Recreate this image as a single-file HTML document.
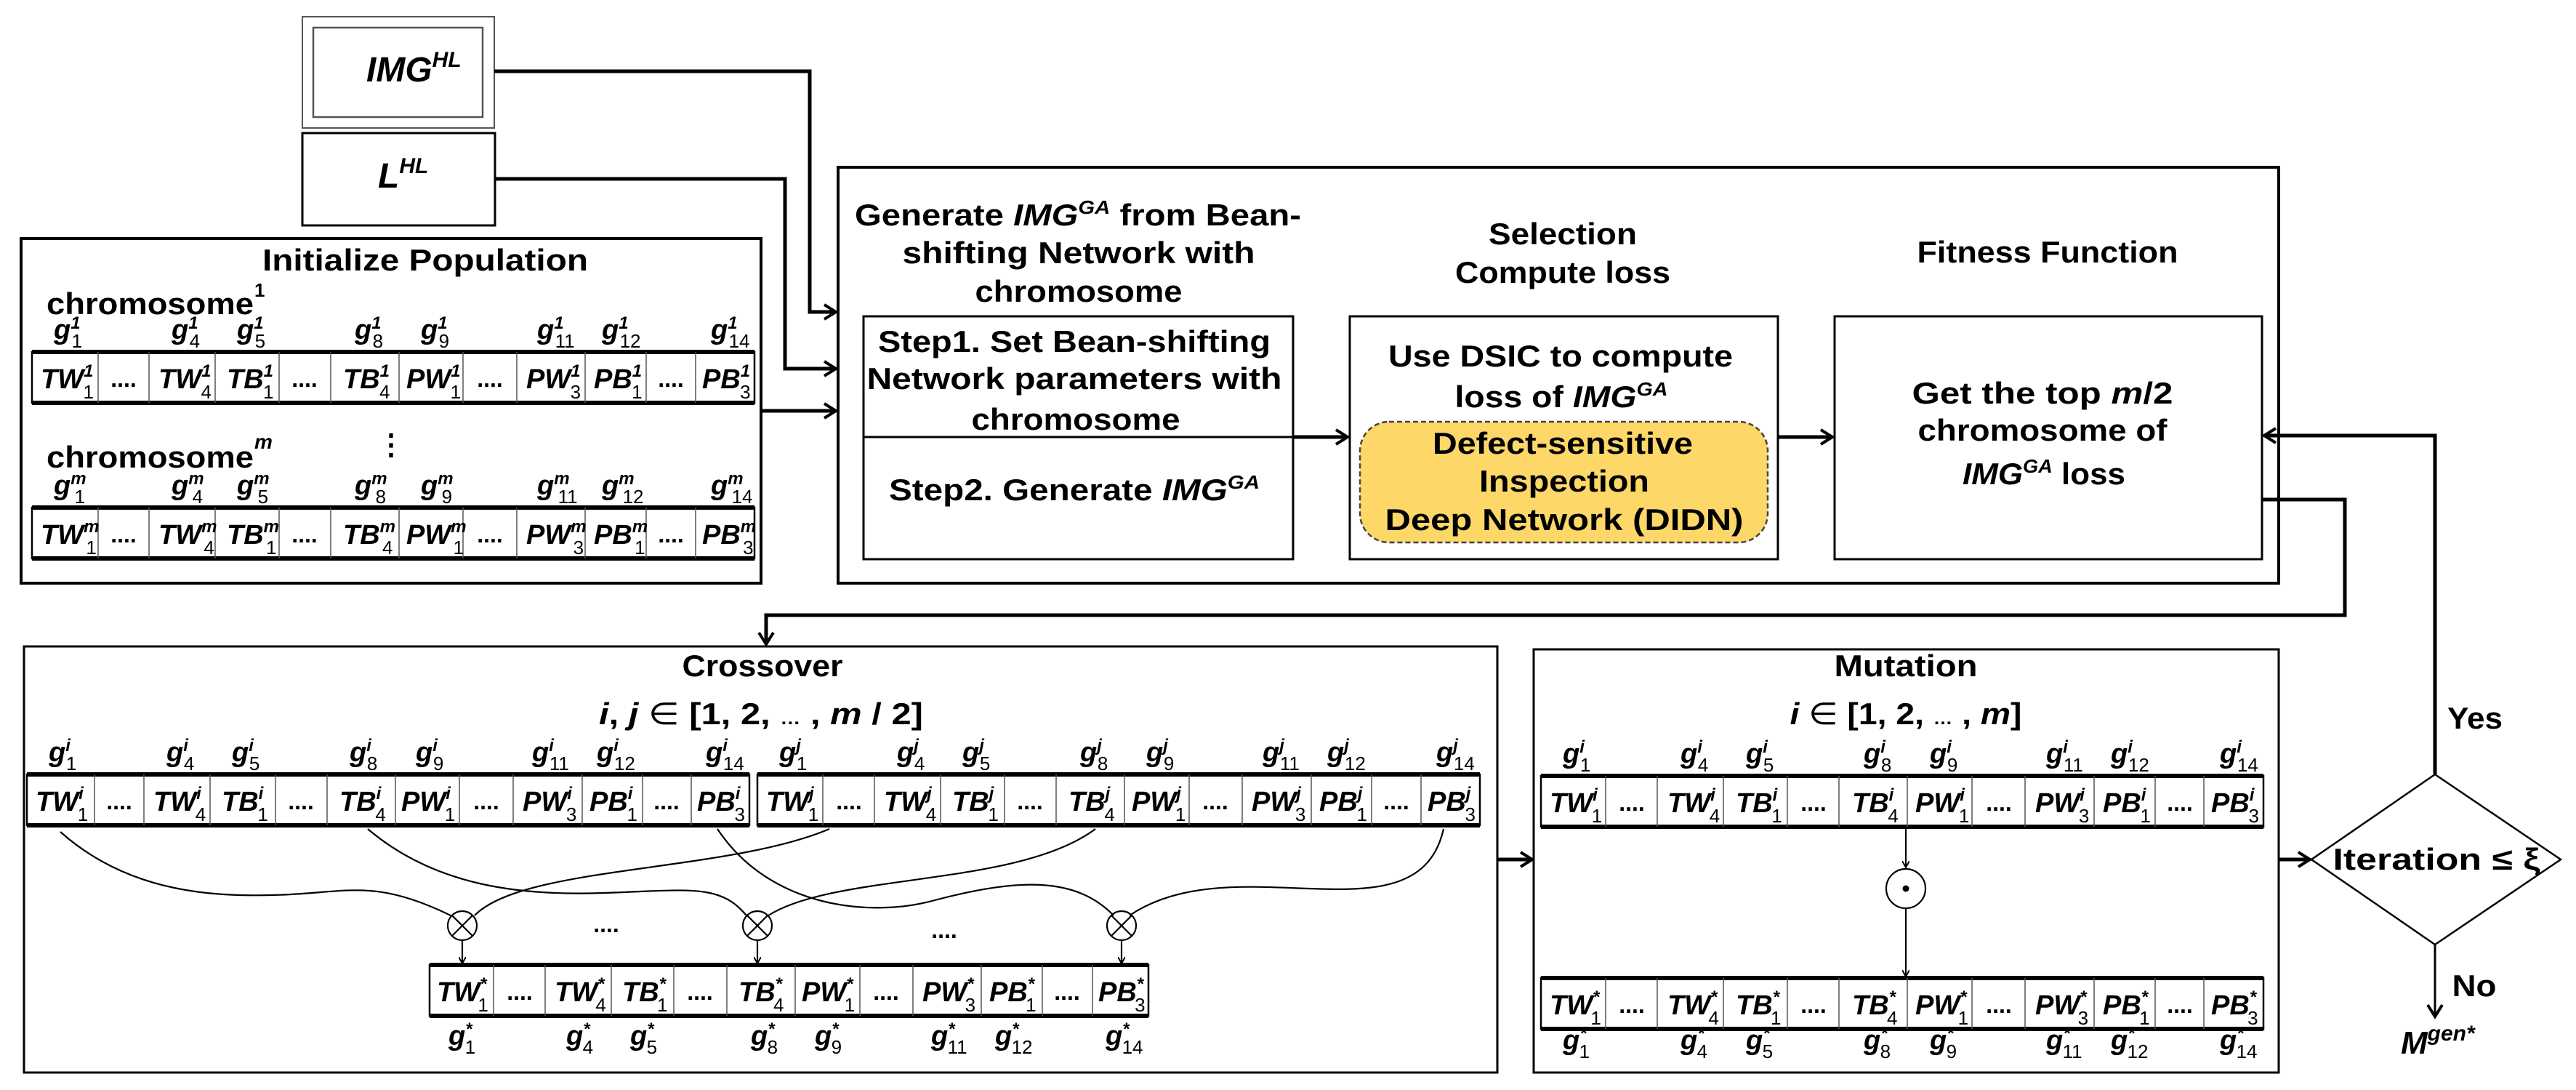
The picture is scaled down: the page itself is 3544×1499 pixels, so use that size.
<!DOCTYPE html>
<html><head><meta charset="utf-8"><style>
html,body{margin:0;padding:0;background:#fff}
svg{display:block}
text{font-family:"Liberation Sans",sans-serif;font-weight:bold;fill:#000}
.c{font-style:italic;font-size:38px}
.u{font-size:24px;font-style:italic}
.d{font-size:26px;font-style:normal;font-weight:normal}
.dots{font-size:32px;text-anchor:middle}
.h{font-size:42px;text-anchor:middle}
.i{font-style:italic}
.ln{fill:none;stroke:#000;stroke-width:5}
.th{fill:none;stroke:#000;stroke-width:2.5}
</style></head><body>
<svg width="3544" height="1499" viewBox="0 0 3544 1499" xmlns="http://www.w3.org/2000/svg">
<defs>
<marker id="a" markerWidth="10" markerHeight="10" refX="9" refY="5" orient="auto" markerUnits="userSpaceOnUse"><path d="M0 0L9 5L0 10" fill="none" stroke="#000" stroke-width="2"/></marker>
<marker id="A" markerWidth="24" markerHeight="24" refX="20" refY="12" orient="auto" markerUnits="userSpaceOnUse"><path d="M4 2L20 12L4 22" fill="none" stroke="#000" stroke-width="4"/></marker>
</defs>

<!-- IMG HL -->
<rect x="416" y="23" width="264" height="153" fill="none" stroke="#555" stroke-width="2"/>
<rect x="431" y="38" width="233" height="123" fill="none" stroke="#555" stroke-width="2.5"/>
<text x="504" y="112" class="i" font-size="48">IMG<tspan dy="-20" font-size="30">HL</tspan></text>
<rect x="416" y="183" width="265" height="127" fill="none" stroke="#000" stroke-width="3"/>
<text x="520" y="258" class="i" font-size="48">L<tspan dy="-20" font-size="30">HL</tspan></text>

<!-- arrows into top box -->
<path class="ln" d="M680 98H1114V429H1150" marker-end="url(#A)"/>
<path class="ln" d="M681 246H1080V507H1150" marker-end="url(#A)"/>
<path class="ln" d="M1047 565H1150" marker-end="url(#A)"/>

<!-- Initialize population -->
<rect x="29" y="328" width="1018" height="474" fill="none" stroke="#000" stroke-width="4"/>
<text x="585" y="372" class="h" font-size="44" textLength="448" lengthAdjust="spacingAndGlyphs">Initialize Population</text>
<text x="64" y="432" font-size="42" textLength="285" lengthAdjust="spacingAndGlyphs">chromosome</text><text x="350" y="408" font-size="26">1</text>
<text x="64" y="643" font-size="42" textLength="285" lengthAdjust="spacingAndGlyphs">chromosome</text><text x="350" y="617" font-size="28" class="i">m</text>
<text x="538" y="625" font-size="40" text-anchor="middle">⋮</text>

<!-- ROW: init 1 -->
<g transform="translate(44,484)">
<rect width="994" height="70" class="th"/><path d="M0 0H994M0 70H994" stroke="#000" stroke-width="6"/>
<path d="M91 0V70M161 0V70M252 0V70M340 0V70M411 0V70M505 0V70M593 0V70M667 0V70M761 0V70M845 0V70M913 0V70" stroke="#555" stroke-width="1.5"/>
<text class="c" x="12" y="50">TW<tspan class="u" dy="-16">1</tspan><tspan class="d" dx="-14" dy="30">1</tspan></text>
<text class="dots" x="126" y="48">....</text>
<text class="c" x="174" y="50">TW<tspan class="u" dy="-16">1</tspan><tspan class="d" dx="-14" dy="30">4</tspan></text>
<text class="c" x="268" y="50">TB<tspan class="u" dy="-16">1</tspan><tspan class="d" dx="-14" dy="30">1</tspan></text>
<text class="dots" x="375" y="48">....</text>
<text class="c" x="428" y="50">TB<tspan class="u" dy="-16">1</tspan><tspan class="d" dx="-14" dy="30">4</tspan></text>
<text class="c" x="515" y="50">PW<tspan class="u" dy="-16">1</tspan><tspan class="d" dx="-14" dy="30">1</tspan></text>
<text class="dots" x="630" y="48">....</text>
<text class="c" x="680" y="50">PW<tspan class="u" dy="-16">1</tspan><tspan class="d" dx="-14" dy="30">3</tspan></text>
<text class="c" x="773" y="50">PB<tspan class="u" dy="-16">1</tspan><tspan class="d" dx="-14" dy="30">1</tspan></text>
<text class="dots" x="879" y="48">....</text>
<text class="c" x="922" y="50">PB<tspan class="u" dy="-16">1</tspan><tspan class="d" dx="-14" dy="30">3</tspan></text>
<text class="c" x="30" y="-18">g<tspan class="u" dy="-14">1</tspan><tspan class="d" dx="-12" dy="26">1</tspan></text>
<text class="c" x="192" y="-18">g<tspan class="u" dy="-14">1</tspan><tspan class="d" dx="-12" dy="26">4</tspan></text>
<text class="c" x="282" y="-18">g<tspan class="u" dy="-14">1</tspan><tspan class="d" dx="-12" dy="26">5</tspan></text>
<text class="c" x="444" y="-18">g<tspan class="u" dy="-14">1</tspan><tspan class="d" dx="-12" dy="26">8</tspan></text>
<text class="c" x="535" y="-18">g<tspan class="u" dy="-14">1</tspan><tspan class="d" dx="-12" dy="26">9</tspan></text>
<text class="c" x="695" y="-18">g<tspan class="u" dy="-14">1</tspan><tspan class="d" dx="-12" dy="26">11</tspan></text>
<text class="c" x="784" y="-18">g<tspan class="u" dy="-14">1</tspan><tspan class="d" dx="-12" dy="26">12</tspan></text>
<text class="c" x="934" y="-18">g<tspan class="u" dy="-14">1</tspan><tspan class="d" dx="-12" dy="26">14</tspan></text>
</g>

<!-- ROW: init m -->
<g transform="translate(44,698)">
<rect width="994" height="70" class="th"/><path d="M0 0H994M0 70H994" stroke="#000" stroke-width="6"/>
<path d="M91 0V70M161 0V70M252 0V70M340 0V70M411 0V70M505 0V70M593 0V70M667 0V70M761 0V70M845 0V70M913 0V70" stroke="#555" stroke-width="1.5"/>
<text class="c" x="12" y="50">TW<tspan class="u" dy="-16">m</tspan><tspan class="d" dx="-18" dy="30">1</tspan></text>
<text class="dots" x="126" y="48">....</text>
<text class="c" x="174" y="50">TW<tspan class="u" dy="-16">m</tspan><tspan class="d" dx="-18" dy="30">4</tspan></text>
<text class="c" x="268" y="50">TB<tspan class="u" dy="-16">m</tspan><tspan class="d" dx="-18" dy="30">1</tspan></text>
<text class="dots" x="375" y="48">....</text>
<text class="c" x="428" y="50">TB<tspan class="u" dy="-16">m</tspan><tspan class="d" dx="-18" dy="30">4</tspan></text>
<text class="c" x="515" y="50">PW<tspan class="u" dy="-16">m</tspan><tspan class="d" dx="-18" dy="30">1</tspan></text>
<text class="dots" x="630" y="48">....</text>
<text class="c" x="680" y="50">PW<tspan class="u" dy="-16">m</tspan><tspan class="d" dx="-18" dy="30">3</tspan></text>
<text class="c" x="773" y="50">PB<tspan class="u" dy="-16">m</tspan><tspan class="d" dx="-18" dy="30">1</tspan></text>
<text class="dots" x="879" y="48">....</text>
<text class="c" x="922" y="50">PB<tspan class="u" dy="-16">m</tspan><tspan class="d" dx="-18" dy="30">3</tspan></text>
<text class="c" x="30" y="-18">g<tspan class="u" dy="-14">m</tspan><tspan class="d" dx="-16" dy="26">1</tspan></text>
<text class="c" x="192" y="-18">g<tspan class="u" dy="-14">m</tspan><tspan class="d" dx="-16" dy="26">4</tspan></text>
<text class="c" x="282" y="-18">g<tspan class="u" dy="-14">m</tspan><tspan class="d" dx="-16" dy="26">5</tspan></text>
<text class="c" x="444" y="-18">g<tspan class="u" dy="-14">m</tspan><tspan class="d" dx="-16" dy="26">8</tspan></text>
<text class="c" x="535" y="-18">g<tspan class="u" dy="-14">m</tspan><tspan class="d" dx="-16" dy="26">9</tspan></text>
<text class="c" x="695" y="-18">g<tspan class="u" dy="-14">m</tspan><tspan class="d" dx="-16" dy="26">11</tspan></text>
<text class="c" x="784" y="-18">g<tspan class="u" dy="-14">m</tspan><tspan class="d" dx="-16" dy="26">12</tspan></text>
<text class="c" x="934" y="-18">g<tspan class="u" dy="-14">m</tspan><tspan class="d" dx="-16" dy="26">14</tspan></text>
</g>

<!-- Top big box -->
<rect x="1153" y="230" width="1982" height="572" fill="none" stroke="#000" stroke-width="4"/>
<text x="1483" y="310" class="h" textLength="614" lengthAdjust="spacingAndGlyphs">Generate <tspan class="i">IMG</tspan><tspan dy="-16" font-size="26" class="i">GA</tspan><tspan dy="16"> from Bean-</tspan></text>
<text x="1484" y="362" class="h" textLength="485" lengthAdjust="spacingAndGlyphs">shifting Network with</text>
<text x="1484" y="415" class="h" textLength="285" lengthAdjust="spacingAndGlyphs">chromosome</text>
<text x="2150" y="336" class="h" textLength="204" lengthAdjust="spacingAndGlyphs">Selection</text>
<text x="2150" y="389" class="h" textLength="296" lengthAdjust="spacingAndGlyphs">Compute loss</text>
<text x="2817" y="361" class="h" textLength="359" lengthAdjust="spacingAndGlyphs">Fitness Function</text>

<rect x="1188" y="435" width="591" height="334" fill="none" stroke="#000" stroke-width="3"/>
<path d="M1188 601H1779" stroke="#000" stroke-width="3"/>
<text x="1478" y="484" class="h" textLength="540" lengthAdjust="spacingAndGlyphs">Step1. Set Bean-shifting</text>
<text x="1478" y="535" class="h" textLength="571" lengthAdjust="spacingAndGlyphs">Network parameters with</text>
<text x="1480" y="591" class="h" textLength="287" lengthAdjust="spacingAndGlyphs">chromosome</text>
<text x="1478" y="688" class="h" textLength="510" lengthAdjust="spacingAndGlyphs">Step2. Generate <tspan class="i">IMG</tspan><tspan dy="-16" font-size="26" class="i">GA</tspan></text>

<rect x="1857" y="435" width="589" height="334" fill="none" stroke="#000" stroke-width="3"/>
<text x="2147" y="504" class="h" textLength="474" lengthAdjust="spacingAndGlyphs">Use DSIC to compute</text>
<text x="2148" y="560" class="h" textLength="293" lengthAdjust="spacingAndGlyphs">loss of <tspan class="i">IMG</tspan><tspan dy="-16" font-size="26" class="i">GA</tspan></text>
<rect x="1871" y="580" width="561" height="166" rx="40" fill="#fdd767" stroke="#444" stroke-width="2.5" stroke-dasharray="7,4"/>
<text x="2150" y="624" class="h" textLength="358" lengthAdjust="spacingAndGlyphs">Defect-sensitive</text>
<text x="2152" y="676" class="h" textLength="234" lengthAdjust="spacingAndGlyphs">Inspection</text>
<text x="2152" y="729" class="h" textLength="493" lengthAdjust="spacingAndGlyphs">Deep Network (DIDN)</text>

<rect x="2524" y="435" width="588" height="334" fill="none" stroke="#000" stroke-width="3"/>
<text x="2810" y="555" class="h" textLength="359" lengthAdjust="spacingAndGlyphs">Get the top <tspan class="i">m</tspan>/2</text>
<text x="2810" y="606" class="h" textLength="343" lengthAdjust="spacingAndGlyphs">chromosome of</text>
<text x="2812" y="666" class="h" textLength="224" lengthAdjust="spacingAndGlyphs"><tspan class="i">IMG</tspan><tspan dy="-16" font-size="26" class="i">GA</tspan><tspan dy="16"> loss</tspan></text>

<path class="ln" d="M1779 601H1854" marker-end="url(#A)"/>
<path class="ln" d="M2446 601H2521" marker-end="url(#A)"/>

<!-- feedback lines -->
<path class="ln" d="M3112 687H3226V846H1054V886" stroke-width="5"/>
<path d="M1054 846V886" stroke="#000" stroke-width="3" marker-end="url(#A)"/>
<path class="ln" d="M3350 1065V599H3115" marker-end="url(#A)"/>

<!-- Crossover box -->
<rect x="33" y="889" width="2027" height="586" fill="none" stroke="#000" stroke-width="3"/>
<text x="1049" y="930" class="h" font-size="40" textLength="221" lengthAdjust="spacingAndGlyphs">Crossover</text>
<text x="1047" y="996" class="h" font-size="42" textLength="446" lengthAdjust="spacingAndGlyphs"><tspan class="i">i</tspan>, <tspan class="i">j</tspan> <tspan font-weight="normal">∈</tspan> [1, 2, <tspan font-size="24">…</tspan> , <tspan class="i">m</tspan> / 2]</text>

<!-- ROW: crossover i -->
<g transform="translate(37,1065)">
<rect width="994" height="70" class="th"/><path d="M0 0H994M0 70H994" stroke="#000" stroke-width="6"/>
<path d="M93 0V70M161 0V70M252 0V70M342 0V70M413 0V70M507 0V70M595 0V70M669 0V70M764 0V70M847 0V70M914 0V70" stroke="#555" stroke-width="1.5"/>
<text class="c" x="12" y="50">TW<tspan class="u" dy="-16">i</tspan><tspan class="d" dx="-8" dy="30">1</tspan></text>
<text class="dots" x="127" y="48">....</text>
<text class="c" x="174" y="50">TW<tspan class="u" dy="-16">i</tspan><tspan class="d" dx="-8" dy="30">4</tspan></text>
<text class="c" x="268" y="50">TB<tspan class="u" dy="-16">i</tspan><tspan class="d" dx="-8" dy="30">1</tspan></text>
<text class="dots" x="377" y="48">....</text>
<text class="c" x="430" y="50">TB<tspan class="u" dy="-16">i</tspan><tspan class="d" dx="-8" dy="30">4</tspan></text>
<text class="c" x="515" y="50">PW<tspan class="u" dy="-16">i</tspan><tspan class="d" dx="-8" dy="30">1</tspan></text>
<text class="dots" x="632" y="48">....</text>
<text class="c" x="682" y="50">PW<tspan class="u" dy="-16">i</tspan><tspan class="d" dx="-8" dy="30">3</tspan></text>
<text class="c" x="774" y="50">PB<tspan class="u" dy="-16">i</tspan><tspan class="d" dx="-8" dy="30">1</tspan></text>
<text class="dots" x="880" y="48">....</text>
<text class="c" x="922" y="50">PB<tspan class="u" dy="-16">i</tspan><tspan class="d" dx="-8" dy="30">3</tspan></text>
<text class="c" x="30" y="-18">g<tspan class="u" dy="-14">i</tspan><tspan class="d" dx="-6" dy="26">1</tspan></text>
<text class="c" x="192" y="-18">g<tspan class="u" dy="-14">i</tspan><tspan class="d" dx="-6" dy="26">4</tspan></text>
<text class="c" x="282" y="-18">g<tspan class="u" dy="-14">i</tspan><tspan class="d" dx="-6" dy="26">5</tspan></text>
<text class="c" x="444" y="-18">g<tspan class="u" dy="-14">i</tspan><tspan class="d" dx="-6" dy="26">8</tspan></text>
<text class="c" x="535" y="-18">g<tspan class="u" dy="-14">i</tspan><tspan class="d" dx="-6" dy="26">9</tspan></text>
<text class="c" x="695" y="-18">g<tspan class="u" dy="-14">i</tspan><tspan class="d" dx="-6" dy="26">11</tspan></text>
<text class="c" x="784" y="-18">g<tspan class="u" dy="-14">i</tspan><tspan class="d" dx="-6" dy="26">12</tspan></text>
<text class="c" x="934" y="-18">g<tspan class="u" dy="-14">i</tspan><tspan class="d" dx="-6" dy="26">14</tspan></text>
</g>

<!-- ROW: crossover j -->
<g transform="translate(1042,1065)">
<rect width="994" height="70" class="th"/><path d="M0 0H994M0 70H994" stroke="#000" stroke-width="6"/>
<path d="M90 0V70M161 0V70M252 0V70M340 0V70M411 0V70M505 0V70M594 0V70M667 0V70M762 0V70M845 0V70M913 0V70" stroke="#555" stroke-width="1.5"/>
<text class="c" x="12" y="50">TW<tspan class="u" dy="-16">j</tspan><tspan class="d" dx="-8" dy="30">1</tspan></text>
<text class="dots" x="126" y="48">....</text>
<text class="c" x="174" y="50">TW<tspan class="u" dy="-16">j</tspan><tspan class="d" dx="-8" dy="30">4</tspan></text>
<text class="c" x="268" y="50">TB<tspan class="u" dy="-16">j</tspan><tspan class="d" dx="-8" dy="30">1</tspan></text>
<text class="dots" x="375" y="48">....</text>
<text class="c" x="428" y="50">TB<tspan class="u" dy="-16">j</tspan><tspan class="d" dx="-8" dy="30">4</tspan></text>
<text class="c" x="515" y="50">PW<tspan class="u" dy="-16">j</tspan><tspan class="d" dx="-8" dy="30">1</tspan></text>
<text class="dots" x="630" y="48">....</text>
<text class="c" x="680" y="50">PW<tspan class="u" dy="-16">j</tspan><tspan class="d" dx="-8" dy="30">3</tspan></text>
<text class="c" x="773" y="50">PB<tspan class="u" dy="-16">j</tspan><tspan class="d" dx="-8" dy="30">1</tspan></text>
<text class="dots" x="879" y="48">....</text>
<text class="c" x="922" y="50">PB<tspan class="u" dy="-16">j</tspan><tspan class="d" dx="-8" dy="30">3</tspan></text>
<text class="c" x="30" y="-18">g<tspan class="u" dy="-14">j</tspan><tspan class="d" dx="-6" dy="26">1</tspan></text>
<text class="c" x="192" y="-18">g<tspan class="u" dy="-14">j</tspan><tspan class="d" dx="-6" dy="26">4</tspan></text>
<text class="c" x="282" y="-18">g<tspan class="u" dy="-14">j</tspan><tspan class="d" dx="-6" dy="26">5</tspan></text>
<text class="c" x="444" y="-18">g<tspan class="u" dy="-14">j</tspan><tspan class="d" dx="-6" dy="26">8</tspan></text>
<text class="c" x="535" y="-18">g<tspan class="u" dy="-14">j</tspan><tspan class="d" dx="-6" dy="26">9</tspan></text>
<text class="c" x="695" y="-18">g<tspan class="u" dy="-14">j</tspan><tspan class="d" dx="-6" dy="26">11</tspan></text>
<text class="c" x="784" y="-18">g<tspan class="u" dy="-14">j</tspan><tspan class="d" dx="-6" dy="26">12</tspan></text>
<text class="c" x="934" y="-18">g<tspan class="u" dy="-14">j</tspan><tspan class="d" dx="-6" dy="26">14</tspan></text>
</g>

<!-- crossover curves -->
<g fill="none" stroke="#000" stroke-width="2.2">
<path d="M83 1144C180 1230 300 1235 400 1230C480 1226 520 1210 620 1259"/>
<path d="M1141 1140C1000 1200 720 1190 653 1259"/>
<path d="M506 1140C600 1220 720 1232 830 1228C950 1224 990 1215 1027 1259"/>
<path d="M1507 1140C1400 1220 1150 1200 1057 1259"/>
<path d="M987 1140C1060 1250 1200 1262 1286 1238C1400 1208 1480 1205 1532 1259"/>
<path d="M1986 1140C1950 1300 1700 1160 1554 1259"/>
<ellipse cx="636" cy="1273" rx="20" ry="20"/><path d="M622 1259L650 1287M650 1259L622 1287"/>
<ellipse cx="1042" cy="1273" rx="20" ry="20"/><path d="M1028 1259L1056 1287M1056 1259L1028 1287"/>
<ellipse cx="1543" cy="1273" rx="20" ry="20"/><path d="M1529 1259L1557 1287M1557 1259L1529 1287"/>
<path d="M636 1293V1325" marker-end="url(#a)"/>
<path d="M1042 1293V1325" marker-end="url(#a)"/>
<path d="M1543 1293V1325" marker-end="url(#a)"/>
</g>
<text class="dots" x="834" y="1282">....</text>
<text class="dots" x="1299" y="1290">....</text>

<!-- ROW: child crossover -->
<g transform="translate(591,1327)">
<rect width="989" height="70" class="th"/><path d="M0 0H989M0 70H989" stroke="#000" stroke-width="6"/>
<path d="M88 0V70M159 0V70M250 0V70M336 0V70M409 0V70M503 0V70M592 0V70M665 0V70M759 0V70M843 0V70M912 0V70" stroke="#555" stroke-width="1.5"/>
<text class="c" x="10" y="50">TW<tspan class="u" dy="-16">*</tspan><tspan class="d" dx="-12" dy="30">1</tspan></text>
<text class="dots" x="124" y="48">....</text>
<text class="c" x="172" y="50">TW<tspan class="u" dy="-16">*</tspan><tspan class="d" dx="-12" dy="30">4</tspan></text>
<text class="c" x="265" y="50">TB<tspan class="u" dy="-16">*</tspan><tspan class="d" dx="-12" dy="30">1</tspan></text>
<text class="dots" x="372" y="48">....</text>
<text class="c" x="425" y="50">TB<tspan class="u" dy="-16">*</tspan><tspan class="d" dx="-12" dy="30">4</tspan></text>
<text class="c" x="512" y="50">PW<tspan class="u" dy="-16">*</tspan><tspan class="d" dx="-12" dy="30">1</tspan></text>
<text class="dots" x="628" y="48">....</text>
<text class="c" x="678" y="50">PW<tspan class="u" dy="-16">*</tspan><tspan class="d" dx="-12" dy="30">3</tspan></text>
<text class="c" x="770" y="50">PB<tspan class="u" dy="-16">*</tspan><tspan class="d" dx="-12" dy="30">1</tspan></text>
<text class="dots" x="877" y="48">....</text>
<text class="c" x="920" y="50">PB<tspan class="u" dy="-16">*</tspan><tspan class="d" dx="-12" dy="30">3</tspan></text>
<text class="c" x="26" y="110">g<tspan class="u" dy="-14">*</tspan><tspan class="d" dx="-10" dy="26">1</tspan></text>
<text class="c" x="188" y="110">g<tspan class="u" dy="-14">*</tspan><tspan class="d" dx="-10" dy="26">4</tspan></text>
<text class="c" x="276" y="110">g<tspan class="u" dy="-14">*</tspan><tspan class="d" dx="-10" dy="26">5</tspan></text>
<text class="c" x="442" y="110">g<tspan class="u" dy="-14">*</tspan><tspan class="d" dx="-10" dy="26">8</tspan></text>
<text class="c" x="530" y="110">g<tspan class="u" dy="-14">*</tspan><tspan class="d" dx="-10" dy="26">9</tspan></text>
<text class="c" x="690" y="110">g<tspan class="u" dy="-14">*</tspan><tspan class="d" dx="-10" dy="26">11</tspan></text>
<text class="c" x="778" y="110">g<tspan class="u" dy="-14">*</tspan><tspan class="d" dx="-10" dy="26">12</tspan></text>
<text class="c" x="930" y="110">g<tspan class="u" dy="-14">*</tspan><tspan class="d" dx="-10" dy="26">14</tspan></text>
</g>

<!-- crossover -> mutation -->
<path class="ln" d="M2060 1182H2108" marker-end="url(#A)"/>

<!-- Mutation box -->
<rect x="2110" y="893" width="1025" height="582" fill="none" stroke="#000" stroke-width="3"/>
<text x="2622" y="930" class="h" font-size="40" textLength="197" lengthAdjust="spacingAndGlyphs">Mutation</text>
<text x="2622" y="996" class="h" font-size="42" textLength="319" lengthAdjust="spacingAndGlyphs"><tspan class="i">i</tspan> <tspan font-weight="normal">∈</tspan> [1, 2, <tspan font-size="24">…</tspan> , <tspan class="i">m</tspan>]</text>

<!-- ROW: mutation i -->
<g transform="translate(2120,1067)">
<rect width="994" height="70" class="th"/><path d="M0 0H994M0 70H994" stroke="#000" stroke-width="6"/>
<path d="M89 0V70M160 0V70M251 0V70M339 0V70M410 0V70M504 0V70M593 0V70M666 0V70M761 0V70M845 0V70M912 0V70" stroke="#555" stroke-width="1.5"/>
<text class="c" x="12" y="50">TW<tspan class="u" dy="-16">i</tspan><tspan class="d" dx="-8" dy="30">1</tspan></text>
<text class="dots" x="125" y="48">....</text>
<text class="c" x="174" y="50">TW<tspan class="u" dy="-16">i</tspan><tspan class="d" dx="-8" dy="30">4</tspan></text>
<text class="c" x="268" y="50">TB<tspan class="u" dy="-16">i</tspan><tspan class="d" dx="-8" dy="30">1</tspan></text>
<text class="dots" x="375" y="48">....</text>
<text class="c" x="428" y="50">TB<tspan class="u" dy="-16">i</tspan><tspan class="d" dx="-8" dy="30">4</tspan></text>
<text class="c" x="515" y="50">PW<tspan class="u" dy="-16">i</tspan><tspan class="d" dx="-8" dy="30">1</tspan></text>
<text class="dots" x="630" y="48">....</text>
<text class="c" x="680" y="50">PW<tspan class="u" dy="-16">i</tspan><tspan class="d" dx="-8" dy="30">3</tspan></text>
<text class="c" x="773" y="50">PB<tspan class="u" dy="-16">i</tspan><tspan class="d" dx="-8" dy="30">1</tspan></text>
<text class="dots" x="879" y="48">....</text>
<text class="c" x="922" y="50">PB<tspan class="u" dy="-16">i</tspan><tspan class="d" dx="-8" dy="30">3</tspan></text>
<text class="c" x="30" y="-18">g<tspan class="u" dy="-14">i</tspan><tspan class="d" dx="-6" dy="26">1</tspan></text>
<text class="c" x="192" y="-18">g<tspan class="u" dy="-14">i</tspan><tspan class="d" dx="-6" dy="26">4</tspan></text>
<text class="c" x="282" y="-18">g<tspan class="u" dy="-14">i</tspan><tspan class="d" dx="-6" dy="26">5</tspan></text>
<text class="c" x="444" y="-18">g<tspan class="u" dy="-14">i</tspan><tspan class="d" dx="-6" dy="26">8</tspan></text>
<text class="c" x="535" y="-18">g<tspan class="u" dy="-14">i</tspan><tspan class="d" dx="-6" dy="26">9</tspan></text>
<text class="c" x="695" y="-18">g<tspan class="u" dy="-14">i</tspan><tspan class="d" dx="-6" dy="26">11</tspan></text>
<text class="c" x="784" y="-18">g<tspan class="u" dy="-14">i</tspan><tspan class="d" dx="-6" dy="26">12</tspan></text>
<text class="c" x="934" y="-18">g<tspan class="u" dy="-14">i</tspan><tspan class="d" dx="-6" dy="26">14</tspan></text>
</g>

<g fill="none" stroke="#000" stroke-width="2.2">
<path d="M2622 1138V1193" marker-end="url(#a)"/>
<ellipse cx="2622" cy="1222" rx="27" ry="27"/>
<path d="M2622 1249V1343" marker-end="url(#a)"/>
</g>
<circle cx="2622" cy="1222" r="4.5" fill="#000"/>

<!-- ROW: mutation child -->
<g transform="translate(2120,1345)">
<rect width="994" height="70" class="th"/><path d="M0 0H994M0 70H994" stroke="#000" stroke-width="6"/>
<path d="M89 0V70M160 0V70M251 0V70M339 0V70M410 0V70M504 0V70M593 0V70M666 0V70M761 0V70M845 0V70M912 0V70" stroke="#555" stroke-width="1.5"/>
<text class="c" x="12" y="50">TW<tspan class="u" dy="-16">*</tspan><tspan class="d" dx="-12" dy="30">1</tspan></text>
<text class="dots" x="125" y="48">....</text>
<text class="c" x="174" y="50">TW<tspan class="u" dy="-16">*</tspan><tspan class="d" dx="-12" dy="30">4</tspan></text>
<text class="c" x="268" y="50">TB<tspan class="u" dy="-16">*</tspan><tspan class="d" dx="-12" dy="30">1</tspan></text>
<text class="dots" x="375" y="48">....</text>
<text class="c" x="428" y="50">TB<tspan class="u" dy="-16">*</tspan><tspan class="d" dx="-12" dy="30">4</tspan></text>
<text class="c" x="515" y="50">PW<tspan class="u" dy="-16">*</tspan><tspan class="d" dx="-12" dy="30">1</tspan></text>
<text class="dots" x="630" y="48">....</text>
<text class="c" x="680" y="50">PW<tspan class="u" dy="-16">*</tspan><tspan class="d" dx="-12" dy="30">3</tspan></text>
<text class="c" x="773" y="50">PB<tspan class="u" dy="-16">*</tspan><tspan class="d" dx="-12" dy="30">1</tspan></text>
<text class="dots" x="879" y="48">....</text>
<text class="c" x="922" y="50">PB<tspan class="u" dy="-16">*</tspan><tspan class="d" dx="-12" dy="30">3</tspan></text>
<text class="c" x="30" y="98">g<tspan class="u" dy="-14">*</tspan><tspan class="d" dx="-10" dy="26">1</tspan></text>
<text class="c" x="192" y="98">g<tspan class="u" dy="-14">*</tspan><tspan class="d" dx="-10" dy="26">4</tspan></text>
<text class="c" x="282" y="98">g<tspan class="u" dy="-14">*</tspan><tspan class="d" dx="-10" dy="26">5</tspan></text>
<text class="c" x="444" y="98">g<tspan class="u" dy="-14">*</tspan><tspan class="d" dx="-10" dy="26">8</tspan></text>
<text class="c" x="535" y="98">g<tspan class="u" dy="-14">*</tspan><tspan class="d" dx="-10" dy="26">9</tspan></text>
<text class="c" x="695" y="98">g<tspan class="u" dy="-14">*</tspan><tspan class="d" dx="-10" dy="26">11</tspan></text>
<text class="c" x="784" y="98">g<tspan class="u" dy="-14">*</tspan><tspan class="d" dx="-10" dy="26">12</tspan></text>
<text class="c" x="934" y="98">g<tspan class="u" dy="-14">*</tspan><tspan class="d" dx="-10" dy="26">14</tspan></text>
</g>

<!-- mutation -> diamond -->
<path class="ln" d="M3135 1182H3178" marker-end="url(#A)"/>
<path d="M3350 1065L3523 1182L3350 1299L3180 1182Z" fill="#fff" stroke="#000" stroke-width="2.5"/>
<text x="3352" y="1196" class="h" textLength="285" lengthAdjust="spacingAndGlyphs">Iteration ≤ ξ</text>
<text x="3405" y="1002" class="h" textLength="76" lengthAdjust="spacingAndGlyphs">Yes</text>
<path d="M3350 1299V1398" fill="none" stroke="#000" stroke-width="3" marker-end="url(#A)"/>
<text x="3404" y="1370" class="h" textLength="61" lengthAdjust="spacingAndGlyphs">No</text>
<text x="3303" y="1449" class="i" font-size="44">M<tspan dy="-18" font-size="30">gen*</tspan></text>
</svg>
</body></html>
